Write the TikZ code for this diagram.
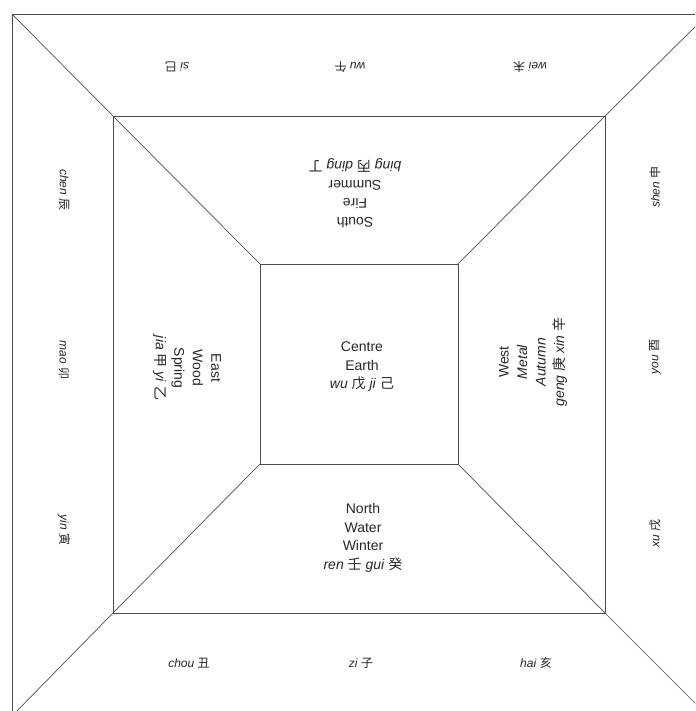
\documentclass[tikz,border=0pt]{standalone}
\usepackage{fontspec}
\setmainfont{Liberation Sans}
\newfontfamily\cjk{Noto Sans CJK SC}
\newcommand{\zh}[1]{{\cjk #1}}
\newcommand{\py}[1]{\textit{#1}}
\usetikzlibrary{positioning}

\tikzset{
  frame/.style={draw=black!70, line width=0.7pt},
  band/.style={inner sep=0pt, text=black!85, font=\fontsize{12}{15}\selectfont},
  phase/.style={inner sep=0pt, align=center, text=black!85, font=\fontsize{14}{18.5}\selectfont}
}

\begin{document}
\begin{tikzpicture}[x=1pt,y=-1pt]
\useasboundingbox (0,0) rectangle (695,711);
\clip (0,0) rectangle (695,711);

% corners: outer, middle and inner square
\coordinate (o1) at (12,14);   \coordinate (o2) at (708,14);
\coordinate (o3) at (708,716); \coordinate (o4) at (12,716);
\coordinate (m1) at (113,116); \coordinate (m2) at (605,116);
\coordinate (m3) at (605,613); \coordinate (m4) at (113,613);
\coordinate (i1) at (260,264); \coordinate (i2) at (458,264);
\coordinate (i3) at (458,464); \coordinate (i4) at (260,464);

\draw[frame] (o1) -- (o2) -- (o3) -- (o4) -- cycle;
\draw[frame] (m1) -- (m2) -- (m3) -- (m4) -- cycle;
\draw[frame] (i1) -- (i2) -- (i3) -- (i4) -- cycle;
\foreach \k in {1,...,4}
  \draw[frame] (o\k) -- (m\k) -- (i\k);

% twelve branches
\node[band, rotate=180] (si)  at (177,67) {\py{si} \zh{巳}};
\node[band, rotate=180] (wu)  at (350,67) {\py{wu} \zh{午}};
\node[band, rotate=180] (wei) at (530,67) {\py{wei} \zh{未}};
\node[band, rotate=-90] (chen) at (64,190) {\py{chen} \zh{辰}};
\node[band, rotate=-90] (mao)  at (64,360) {\py{mao} \zh{卯}};
\node[band, rotate=-90] (yin)  at (64,530) {\py{yin} \zh{寅}};
\node[band, rotate=90] (shen) at (655,187) {\py{shen} \zh{申}};
\node[band, rotate=90] (you)  at (655,357) {\py{you} \zh{酉}};
\node[band, rotate=90] (xu)   at (655,533) {\py{xu} \zh{戌}};
\node[band] (chou) at (189,663) {\py{chou} \zh{丑}};
\node[band] (zi)   at (361,663) {\py{zi} \zh{子}};
\node[band] (hai)  at (536,663) {\py{hai} \zh{亥}};

% five phases
\node[phase, rotate=180] (south) at (355,193)
  {South\\Fire\\Summer\\\py{bing} \zh{丙} \py{ding} \zh{丁}};
\node[phase, rotate=-90] (east) at (187,368)
  {East\\Wood\\Spring\\\py{jia} \zh{甲} \py{yi} \zh{乙}};
\node[phase, rotate=90] (west) at (533,362)
  {West\\\py{Metal}\\\py{Autumn}\\\py{geng} \zh{庚} \py{xin} \zh{辛}};
\node[phase] (north) at (363,538)
  {North\\Water\\Winter\\\py{ren} \zh{壬} \py{gui} \zh{癸}};
\node[phase] (centre) at (362,367)
  {Centre\\Earth\\\py{wu} \zh{戊} \py{ji} \zh{己}};
\end{tikzpicture}
\end{document}
